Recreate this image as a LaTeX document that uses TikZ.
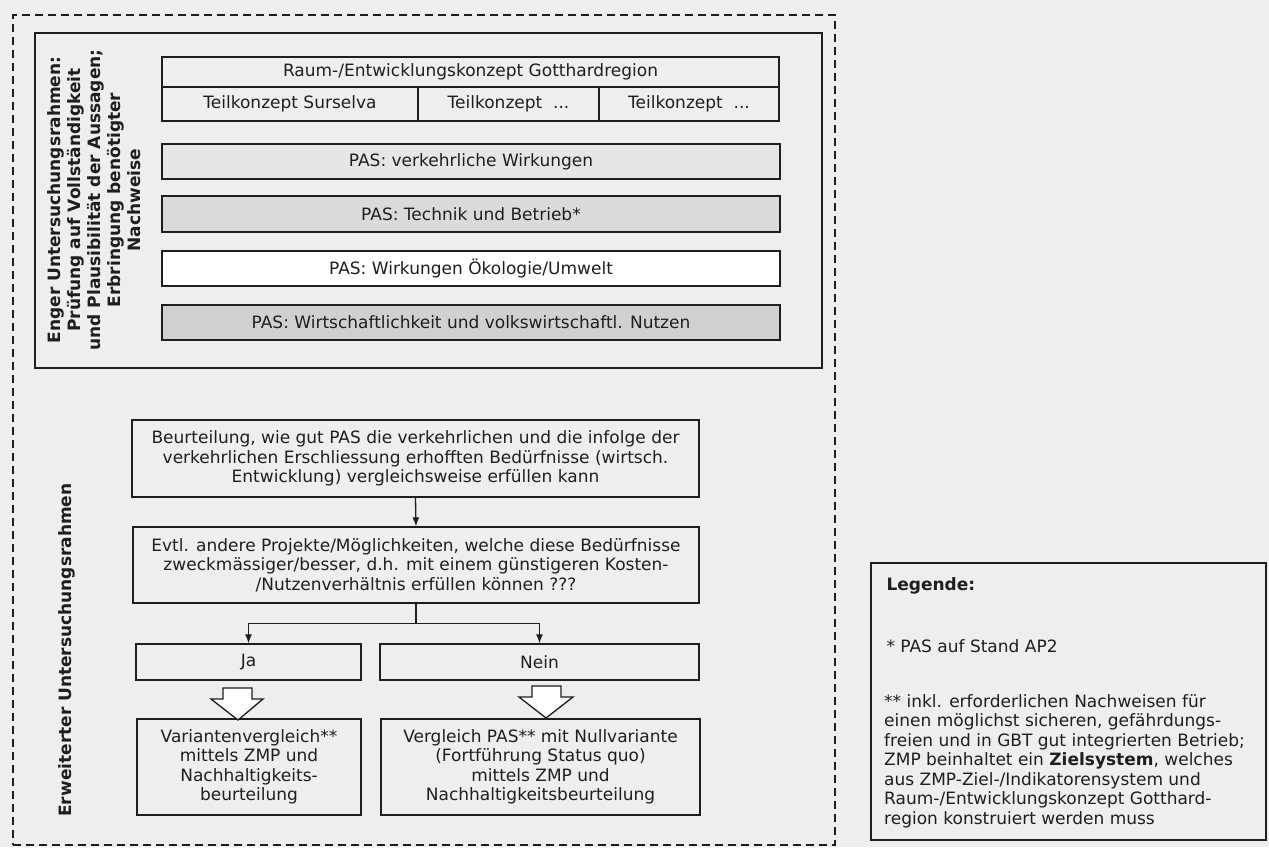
\documentclass[tikz,border=0pt]{standalone}
\usepackage{fontspec}
\setmainfont{DejaVu Sans}
\usetikzlibrary{arrows.meta}
\definecolor{bg}{RGB}{238,238,238}
\definecolor{ink}{RGB}{30,30,30}
\definecolor{fillA}{RGB}{230,230,230}
\definecolor{fillB}{RGB}{218,218,218}
\definecolor{fillC}{RGB}{208,208,208}
\tikzset{
  txt/.style={font=\fontsize{17}{19.5}\selectfont, text=ink},
  box/.style={draw=ink, line width=1.3pt, txt, align=center, inner sep=2pt},
  frame/.style={draw=ink, line width=2.4pt},
  dframe/.style={draw=ink, line width=1.4pt, dash pattern=on 8pt off 5pt},
  arr/.style={draw=ink, line width=1.3pt, -{Latex[length=9pt,width=7pt]}},
  hollow/.style={draw=ink, line width=1.3pt, fill=white},
}
\begin{document}
\begin{tikzpicture}[x=1pt,y=-1pt]
\fill[bg] (0,0) rectangle (1269,847);
\useasboundingbox (0,0) rectangle (1269,847);

% outer dashed frame and inner solid frame
\node[dframe, minimum width=822pt, minimum height=830pt] (outer) at (424,430) {};
\node[frame, minimum width=787pt, minimum height=335pt] (inner) at (428.5,200.5) {};

% vertical titles
\node[txt, font=\fontsize{17}{20}\selectfont\bfseries, rotate=90, align=center] (enger) at (94,200)
  {Enger Untersuchungsrahmen:\\Prüfung auf Vollständigkeit\\und Plausibilität der Aussagen;\\Erbringung benötigter\\Nachweise};
\node[txt, font=\fontsize{17}{20}\selectfont\bfseries, rotate=90] (erw) at (67,650) {Erweiterter Untersuchungsrahmen};

% table
\node[box, minimum width=617pt, minimum height=30pt] (raum) at (470.5,72) {Raum-/Entwicklungskonzept Gotthardregion};
\node[box, minimum width=256pt, minimum height=34pt] (t1) at (290,104) {Teilkonzept Surselva};
\node[box, minimum width=181pt, minimum height=34pt] (t2) at (508.5,104) {Teilkonzept\ \ ...};
\node[box, minimum width=180pt, minimum height=34pt] (t3) at (689,104) {Teilkonzept\ \ ...};

% PAS boxes
\node[box, fill=fillA, minimum width=618pt, minimum height=35pt] (p1) at (471,161.5) {PAS: verkehrliche Wirkungen};
\node[box, fill=fillB, minimum width=618pt, minimum height=36pt] (p2) at (471,214) {PAS: Technik und Betrieb*};
\node[box, fill=white, minimum width=618pt, minimum height=35pt] (p3) at (471,268.5) {PAS: Wirkungen Ökologie/Umwelt};
\node[box, fill=fillC, minimum width=618pt, minimum height=35pt] (p4) at (471,322.5) {PAS: Wirtschaftlichkeit und volkswirtschaftl. Nutzen};

% lower flow
\node[box, minimum width=567pt, minimum height=77pt] (b1) at (415.5,458.5)
  {Beurteilung, wie gut PAS die verkehrlichen und die infolge der\\verkehrlichen Erschliessung erhofften Bedürfnisse (wirtsch.\\Entwicklung) vergleichsweise erfüllen kann};
\node[box, minimum width=566pt, minimum height=76pt] (b2) at (416,565)
  {Evtl. andere Projekte/Möglichkeiten, welche diese Bedürfnisse\\zweckmässiger/besser, d.h. mit einem günstigeren Kosten-\\/Nutzenverhältnis erfüllen können ???};
\node[box, minimum width=225pt, minimum height=36pt] (ja) at (248.5,662) {Ja};
\node[box, minimum width=319pt, minimum height=36pt] (nein) at (539.5,662) {Nein};
\node[box, minimum width=224pt, minimum height=96pt] (v1) at (249,767)
  {Variantenvergleich**\\mittels ZMP und\\Nachhaltigkeits-\\beurteilung};
\node[box, minimum width=319pt, minimum height=96pt] (v2) at (540.5,767)
  {Vergleich PAS** mit Nullvariante\\(Fortführung Status quo)\\mittels ZMP und\\Nachhaltigkeitsbeurteilung};

\draw[arr] (b1.south) -- (b2.north);
\draw[draw=ink, line width=1.3pt] (b2.south) -- ++(0,20) coordinate (br);
\draw[arr] (br) -| (ja.north);
\draw[arr] (br) -| (nein.north);

% hollow block arrows
\draw[hollow] (223,688) -- (252,688) -- (252,699) -- (263,699) -- (238,720) -- (211,699) -- (223,699) -- cycle;
\draw[hollow] (532,686) -- (561,686) -- (561,697) -- (573,697) -- (546,718) -- (519,697) -- (532,697) -- cycle;

% legend
\node[draw=ink, line width=1.3pt, minimum width=395pt, minimum height=277pt] (leg) at (1068.5,701.5) {};
\node[txt, font=\fontsize{17}{19.5}\selectfont\bfseries, anchor=west] (legt) at (883,586) {Legende:};
\node[txt, anchor=west] (l1) at (883,646) {* PAS auf Stand AP2};
\node[txt, anchor=north west, align=left, inner sep=0pt] (l2) at (884,694)
  {** inkl. erforderlichen Nachweisen für\\einen möglichst sicheren, gefährdungs-\\freien und in GBT gut integrierten Betrieb;\\ZMP beinhaltet ein \textbf{Zielsystem}, welches\\aus ZMP-Ziel-/Indikatorensystem und\\Raum-/Entwicklungskonzept Gotthard-\\region konstruiert werden muss};
\end{tikzpicture}
\end{document}
